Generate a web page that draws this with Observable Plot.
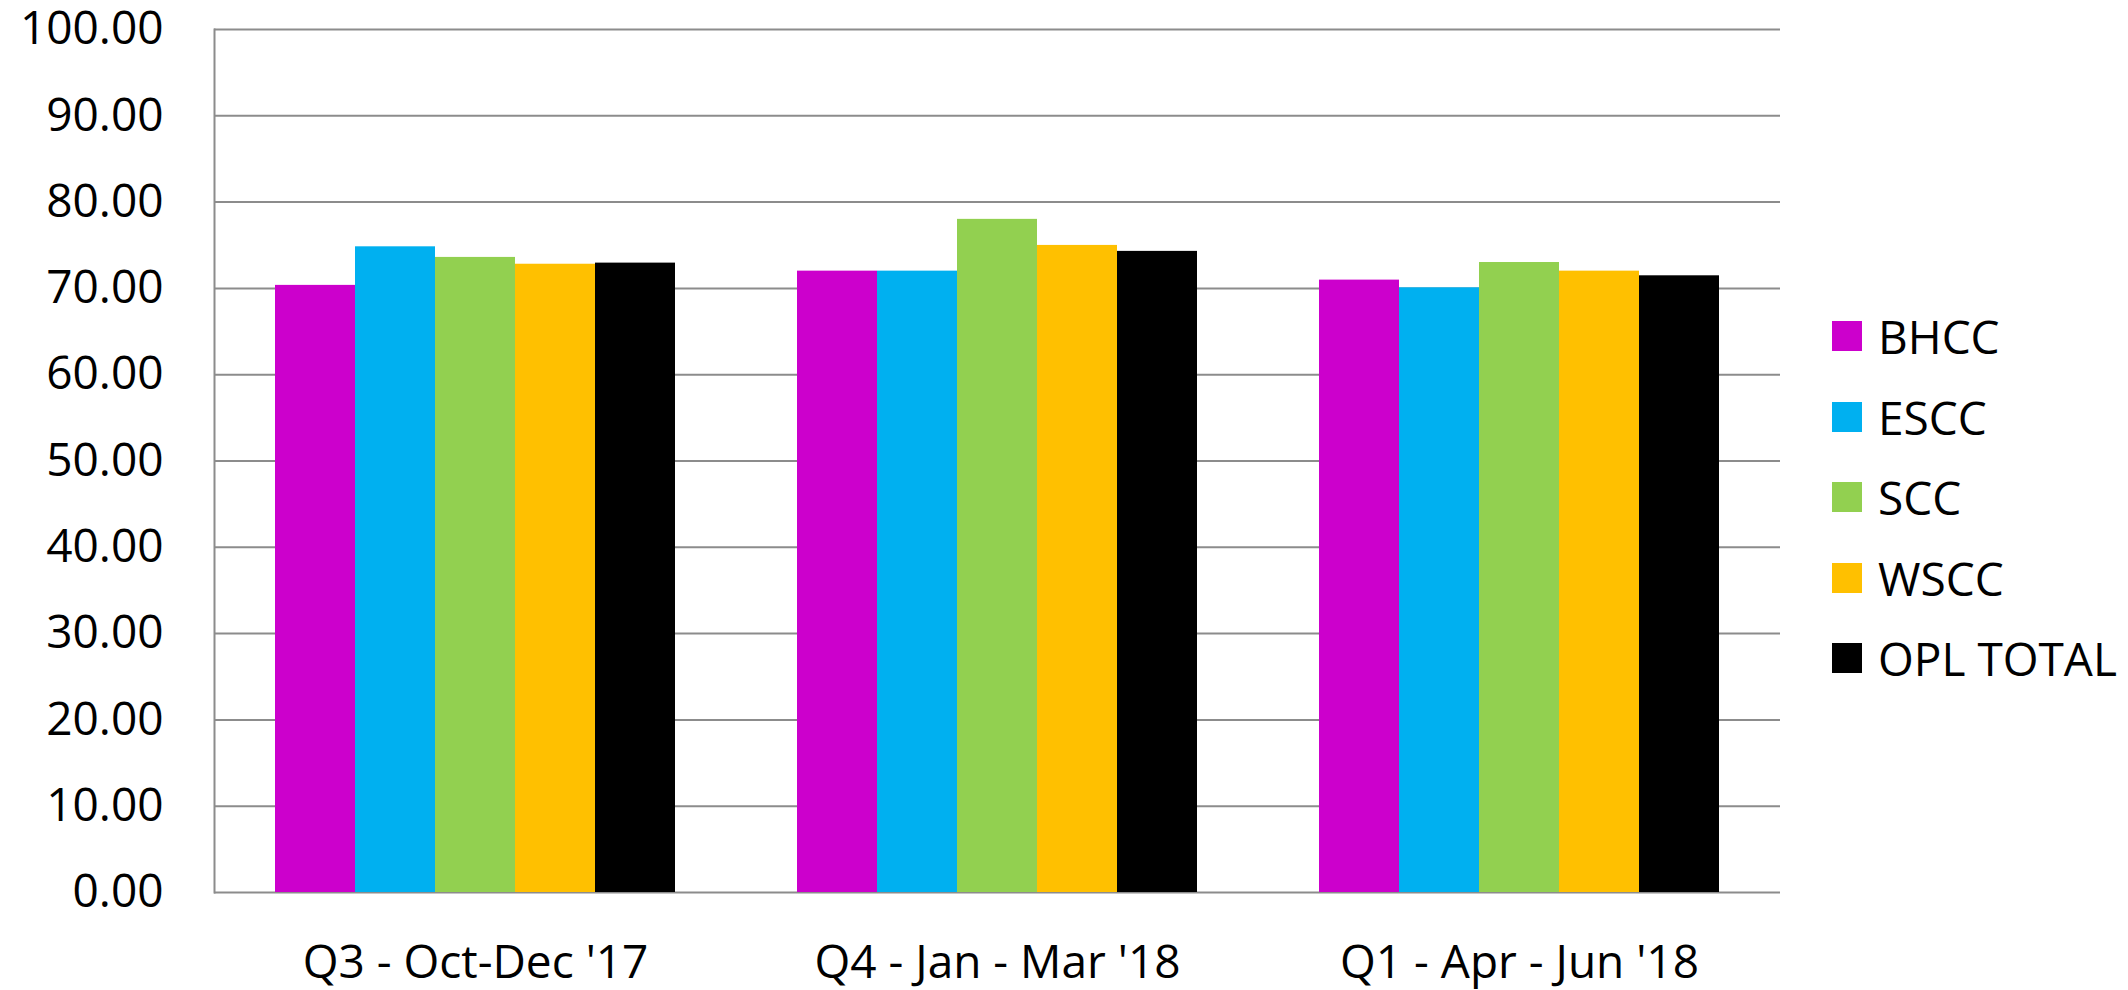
<!DOCTYPE html>
<html>
<head>
<meta charset="utf-8">
<script src="https://cdn.jsdelivr.net/npm/d3@7"></script>
<script src="https://cdn.jsdelivr.net/npm/@observablehq/plot@0.6"></script>
<style>
  html, body { margin: 0; padding: 0; background: #fff; }
  #wrap { position: relative; width: 2128px; height: 990px; }
  #legend { position: absolute; left: 1832px; top: 296px; font-family: "Open Sans", sans-serif; font-size: 46px; color: #000; }
  .row { display: flex; align-items: center; height: 80.5px; }
  .sw { width: 30px; height: 30px; margin-right: 16px; flex: none; }
</style>
</head>
<body>
<div id="wrap"><div id="legend"></div></div>
<script>
const categories = ["Q3 - Oct-Dec '17", "Q4 - Jan - Mar '18", "Q1 - Apr - Jun '18"];
const series = ["BHCC", "ESCC", "SCC", "WSCC", "OPL TOTAL"];
const colors = ["#CC00CC", "#00B0F0", "#92D050", "#FFC000", "#000000"];
const bhcc = [70.35, 72.0, 70.96];
const escc = [74.82, 72.0, 70.07];
const scc  = [73.59, 78.0, 73.0];
const wscc = [72.8, 74.98, 72.0];
const opl  = [72.93, 74.29, 71.46];
const yTicks = [0, 10, 20, 30, 40, 50, 60, 70, 80, 90, 100];

const seriesValues = [bhcc, escc, scc, wscc, opl];
const data = categories.flatMap((c, i) =>
  series.map((s, j) => ({category: c, series: s, value: seriesValues[j][i]}))
);

const chart = Plot.plot({
  width: 2128,
  height: 990,
  marginLeft: 214,
  marginRight: 348,
  marginTop: 29,
  marginBottom: 98,
  style: {fontFamily: "Open Sans", fontSize: "46px", background: "white", color: "black"},
  fx: {domain: categories, padding: 0},
  x: {domain: series, paddingInner: 0, paddingOuter: 0.746, axis: null},
  y: {domain: [0, 100]},
  color: {domain: series, range: colors},
  marks: [
    Plot.ruleY(yTicks, {stroke: "#8c8c8c", strokeWidth: 2}),
    Plot.frame({anchor: "left", facetAnchor: "left", stroke: "#8c8c8c", strokeWidth: 2}),
    Plot.barY(data, {fx: "category", x: "series", y: "value", fill: "series"}),
    Plot.axisY(yTicks, {tickFormat: d => d.toFixed(2), tickSize: 0, tickPadding: 51, label: null, fill: "black"}),
    Plot.axisFx({anchor: "bottom", tickSize: 0, tickPadding: 53, label: null, fill: "black"})
  ]
});
document.getElementById("wrap").prepend(chart);

const legend = document.getElementById("legend");
series.forEach((s, i) => {
  const row = document.createElement("div");
  row.className = "row";
  const sw = document.createElement("div");
  sw.className = "sw";
  sw.style.background = colors[i];
  const t = document.createElement("span");
  t.textContent = s;
  row.append(sw, t);
  legend.append(row);
});
</script>
</body>
</html>
